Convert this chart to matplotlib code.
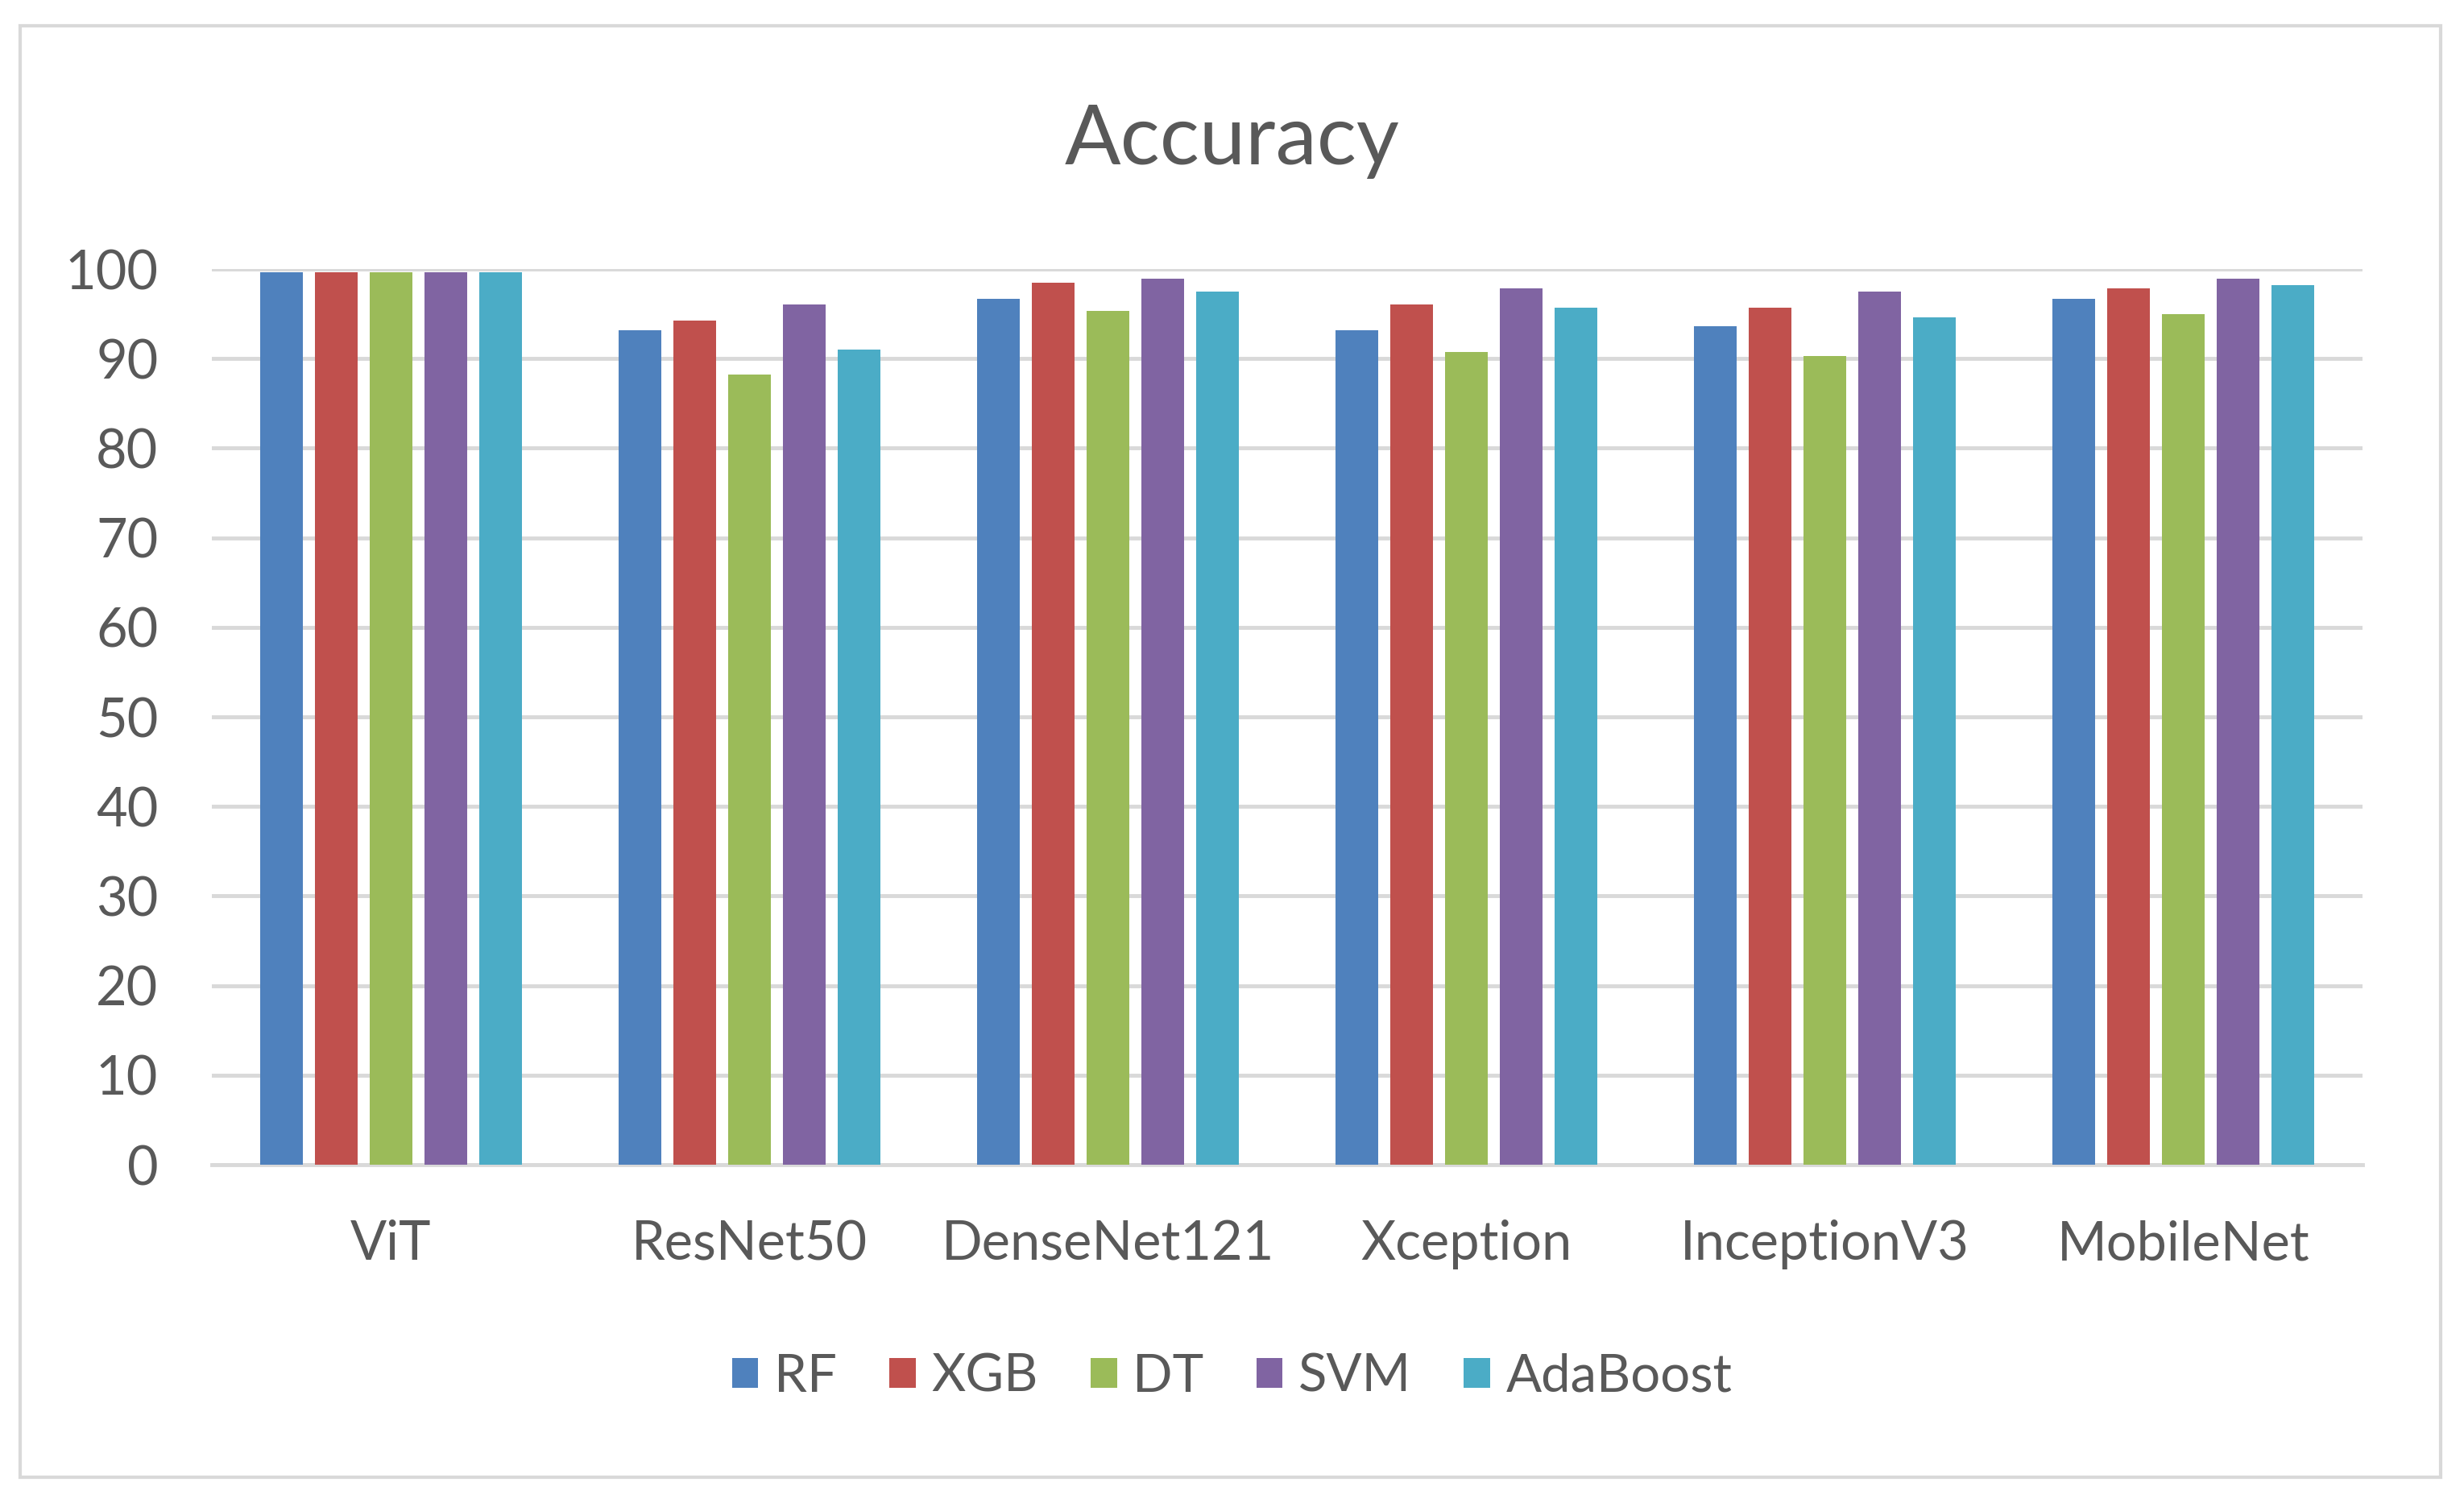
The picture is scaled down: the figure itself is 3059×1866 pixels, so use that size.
import matplotlib
matplotlib.use("Agg")
import matplotlib.pyplot as plt
import numpy as np
from matplotlib.patches import Rectangle

plt.rcParams['font.family'] = ['Lato', 'DejaVu Sans']

categories = ["ViT", "ResNet50", "DenseNet121", "Xception", "InceptionV3", "MobileNet"]
series_names = ["RF", "XGB", "DT", "SVM", "AdaBoost"]
rf = [99.6, 93.2, 96.7, 93.2, 93.6, 96.7]
xgb = [99.6, 94.2, 98.5, 96.0, 95.7, 97.8]
dt = [99.6, 88.2, 95.3, 90.7, 90.3, 95.0]
svm = [99.6, 96.0, 98.9, 97.8, 97.5, 98.9]
ada = [99.6, 91.0, 97.5, 95.7, 94.6, 98.2]
series = [rf, xgb, dt, svm, ada]
colors = ["#4F81BD", "#C0504D", "#9BBB59", "#8064A2", "#4BACC6"]
yticks = [0, 10, 20, 30, 40, 50, 60, 70, 80, 90, 100]

W, H = 3059, 1866
fig = plt.figure(figsize=(W / 100, H / 100), dpi=100)
fig.patch.set_facecolor("white")
fig.add_artist(Rectangle((25 / W, 32 / H), (3030 - 25) / W, (1834 - 32) / H,
                         transform=fig.transFigure, fill=False,
                         edgecolor="#D9D9D9", linewidth=3))

ax = fig.add_axes([263 / W, 1 - 1446 / H, (2933 - 263) / W, (1446 - 334) / H])
x = np.arange(len(categories))
pitch = 0.153
width = 0.118
for i, (name, vals, c) in enumerate(zip(series_names, series, colors)):
    ax.bar(x + (i - 2) * pitch, vals, width=width, color=c, label=name, zorder=3)

ax.set_xlim(-0.5, len(categories) - 0.5)
ax.set_ylim(0, 100)
ax.set_yticks(yticks)
ax.set_yticklabels([str(v) for v in yticks])
ax.set_xticks(x)
ax.set_xticklabels(categories)
ax.yaxis.grid(True, color="#D9D9D9", linewidth=3.5, zorder=0)
ax.set_axisbelow(True)
for s in ["top", "right", "left"]:
    ax.spines[s].set_visible(False)
ax.spines["bottom"].set_color("#D9D9D9")
ax.spines["bottom"].set_linewidth(3.5)
ax.tick_params(axis="both", length=0, labelsize=48, labelcolor="#595959")
ax.tick_params(axis="x", pad=49)
ax.tick_params(axis="y", pad=48)

fig.text(0.5, 1 - 175 / H, "Accuracy", ha="center", va="center",
         fontsize=74, color="#595959")

leg = fig.legend(loc="center", bbox_to_anchor=(0.5, 1 - 1709 / H), ncol=5,
                 frameon=False, fontsize=47, handlelength=0.5, handleheight=0.5,
                 handletextpad=0.3, columnspacing=1.0)
for t in leg.get_texts():
    t.set_color("#595959")

fig.savefig("out.png", dpi=100, facecolor="white")
